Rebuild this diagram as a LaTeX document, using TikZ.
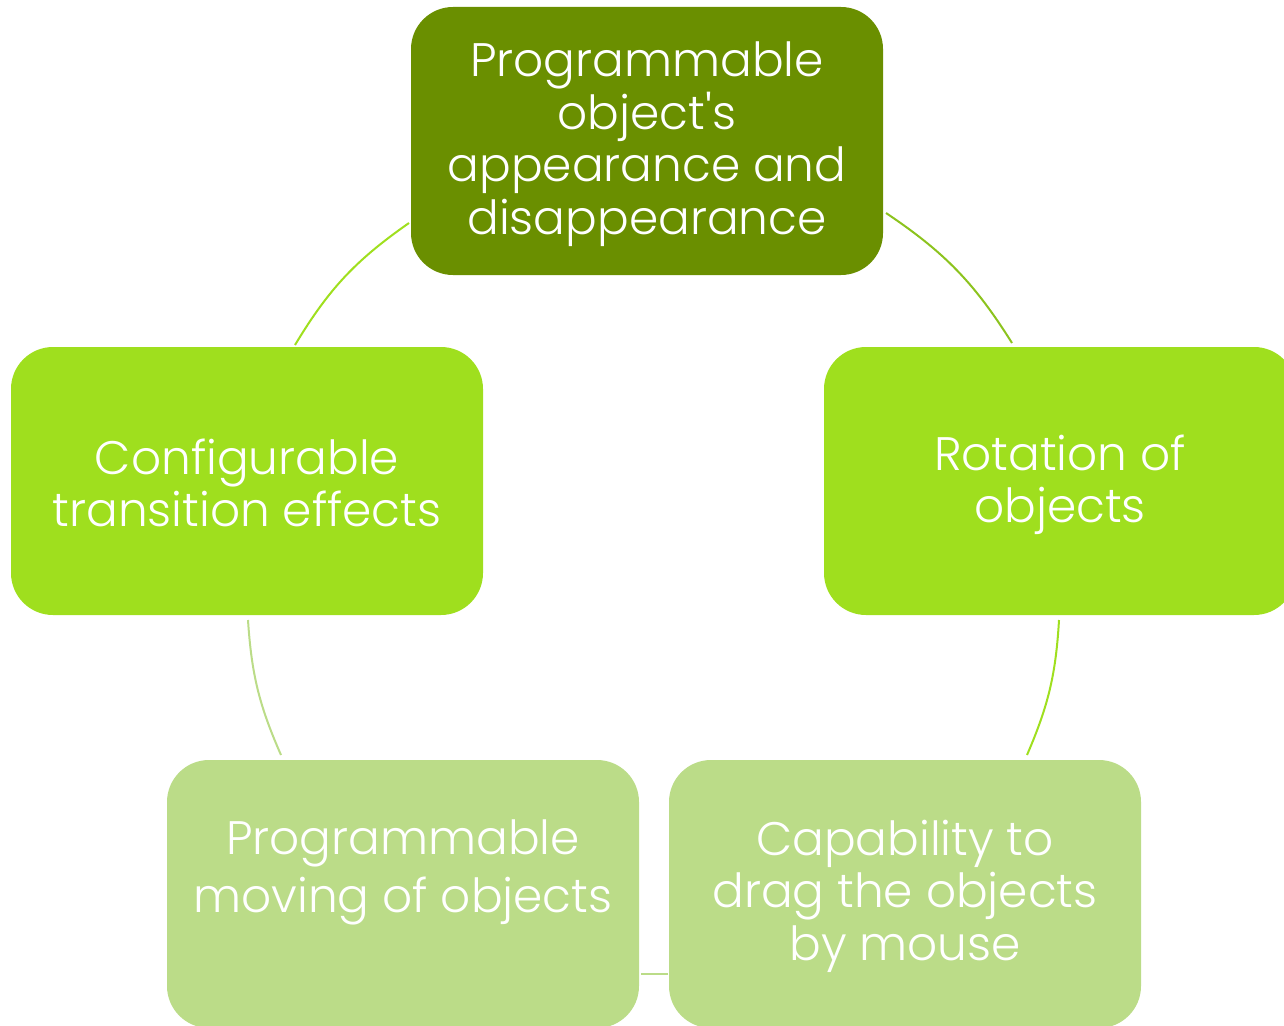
\documentclass[tikz,border=0pt]{standalone}
\usepackage{fontspec}
\IfFontExistsTF{Poppins Light}{\newfontfamily\pop{Poppins Light}}{\newfontfamily\pop{Poppins}}
\definecolor{topgreen}{HTML}{6A8F00}
\definecolor{midgreen}{HTML}{9FDF1E}
\definecolor{lightgreen}{HTML}{BBDC88}
\definecolor{arcdark}{HTML}{8CC31E}
\begin{document}
\begin{tikzpicture}[x=1pt,y=-1pt,
  box/.style={rounded corners=42pt, minimum width=472pt, minimum height=268pt, inner sep=0pt, draw=none},
  txt/.style={text=white, align=center, font=\pop\fontsize{47}{52.5}\selectfont, inner sep=0pt},
  conn/.style={line width=2pt}]
\useasboundingbox (0,0) rectangle (1284,1025);
% boxes
\node[box, fill=topgreen] (b1) at (647,141) {};
\node[box, fill=midgreen] (b2) at (1060,481) {};
\node[box, fill=lightgreen] (b3) at (905,894) {};
\node[box, fill=lightgreen] (b4) at (403,894) {};
\node[box, fill=midgreen] (b5) at (247,481) {};
% texts
\node[txt, yshift=-3pt] (t1) at (b1.center) {Programmable\\object's\\appearance and\\disappearance};
\node[txt, yshift=-4pt] (t2) at (b2.center) {Rotation of\\objects};
\node[txt, yshift=-2pt] (t3) at (b3.center) {Capability to\\drag the objects\\by mouse};
\node[txt, yshift=22pt] (t4) at (b4.center) {Programmable\\[5.5pt]moving of objects};
\node[txt, yshift=-2pt] (t5) at (b5.center) {Configurable\\transition effects};
% connector endpoints
\coordinate (a1) at (886,213); \coordinate (a2) at (1012,343);
\coordinate (a3) at (1059,620); \coordinate (a4) at (1027,755);
\coordinate (a5) at (668,974); \coordinate (a6) at (641,974);
\coordinate (a7) at (281,755); \coordinate (a8) at (248,620);
\coordinate (a9) at (295,345); \coordinate (a10) at (409,223);
\draw[conn, arcdark] (a1) to[bend left=12] (a2);
\draw[conn, midgreen] (a3) to[bend left=10] (a4);
\draw[conn, lightgreen] (a5) -- (a6);
\draw[conn, lightgreen] (a7) to[bend left=10] (a8);
\draw[conn, midgreen] (a9) to[bend left=12] (a10);
\end{tikzpicture}
\end{document}
